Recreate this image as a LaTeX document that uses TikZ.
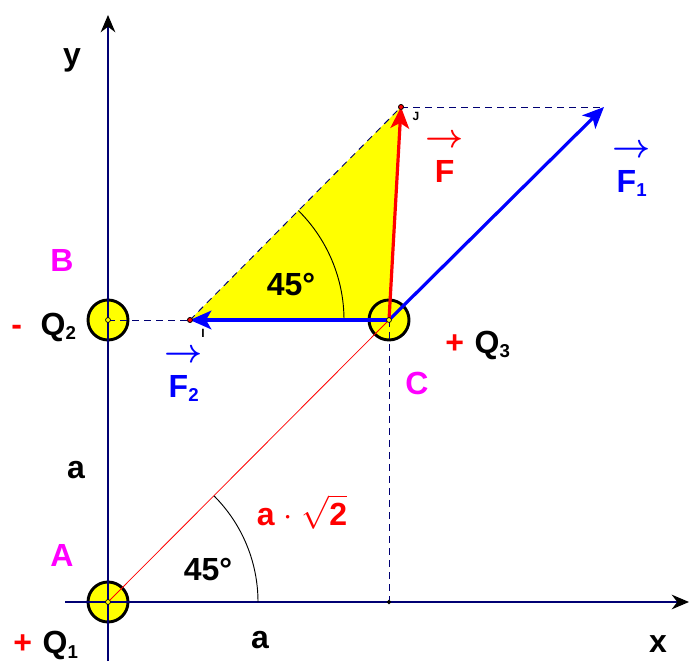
\documentclass[tikz,border=0pt]{standalone}
\usepackage{amsmath,amssymb,bm}
\usepackage{fontspec}
\setmainfont{Liberation Sans}
\usetikzlibrary{arrows.meta}

\definecolor{pink}{RGB}{255,0,255}
\definecolor{lemon}{RGB}{255,255,0}
\newcommand{\vecF}[1][]{\shortstack{$\boldsymbol{\rightarrow}$\\[6pt]F\textsubscript{\fontsize{14}{14}\selectfont #1}}}

\begin{document}
\begin{tikzpicture}[
  x=0.75pt,y=0.75pt,
  font=\bfseries\fontsize{24}{28}\selectfont,
  charge/.style={draw,circle,line width=2.2pt,fill=lemon,minimum size=30pt,inner sep=0pt},
  ctr/.style={draw,circle,fill=lemon,line width=0.5pt,inner sep=1.3pt},
  tipdot/.style={draw,circle,fill=red,line width=0.5pt,inner sep=1.3pt},
  axis/.style={blue!45!black,line width=0.8pt,-{Stealth[length=13pt,width=11pt,black]}},
  help/.style={blue!45!black,line width=0.7pt,dash pattern=on 5pt off 4pt},
  barc/.style={blue,line width=2.4pt,-{Stealth[length=16pt,width=14pt,inset=4pt]}},
  rarc/.style={red,line width=2.4pt,-{Stealth[length=16pt,width=14pt,inset=4pt]}},
  ang/.style={black,line width=0.7pt},
  pnk/.style={pink},
  vlab/.style={inner sep=0pt},
  small/.style={font=\bfseries\fontsize{9}{10}\selectfont,inner sep=1pt},
]
  \useasboundingbox (0,0) rectangle (689,661);

  % force triangle
  \fill[lemon] (190,341) -- (389,341) -- (401,554) -- cycle;

  % charges
  \node[charge] (A) at (108,59) {};
  \node[charge] (B) at (108,341) {};
  \node[charge] (C) at (389,341) {};

  % axes
  \coordinate (y0) at (108,0);
  \coordinate (y1) at (108,646);
  \coordinate (x0) at (65,59);
  \coordinate (x1) at (689,59);
  \draw[axis] (y0) -- (y1);
  \draw[axis] (x0) -- (x1);

  % points
  \node[tipdot] (I) at (190,341) {};
  \node[tipdot] (J) at (401,554) {};
  \coordinate (T) at (604,554);
  \node[draw,circle,fill=black,inner sep=1pt] (D) at (389,59) {};

  % helper lines
  \draw[help] (B.center) -- (I.center);
  \draw[help] (J.center) -- (T);
  \draw[help] (C.center) -- (D);
  \draw[help] (I.center) -- (J.center);
  \draw[red,line width=0.6pt] (A.center) -- (C.center);

  % angles
  \draw[ang] (A.center) ++(150,0) arc[start angle=0,end angle=45,radius=150];
  \draw[ang] (I.center) ++(154,0) arc[start angle=0,end angle=45.3,radius=154];

  % forces
  \draw[barc] (C.center) -- (I.center);
  \draw[barc] (C.center) -- (T);
  \draw[rarc] (C.center) -- (J.center);

  \node[ctr] at (A.center) {};
  \node[ctr] at (B.center) {};
  \node[ctr] at (C.center) {};
  \node[tipdot] at (I.center) {};
  \node[tipdot] at (J.center) {};

  % labels
  \node at (72,601) {y};
  \node at (658,17) {x};
  \node[pnk] at (62,401) {B};
  \node[pnk] at (62,106) {A};
  \node[pnk] at (417,278) {C};
  \node at (44,334) {\textcolor{red}{-}\hspace{14pt}Q\textsubscript{\fontsize{14}{14}\selectfont 2}};
  \node at (46,16) {\textcolor{red}{+}\hspace{8pt}Q\textsubscript{\fontsize{14}{14}\selectfont 1}};
  \node at (478,316) {\textcolor{red}{+}\hspace{8pt}Q\textsubscript{\fontsize{14}{14}\selectfont 3}};
  \node at (76,191) {a};
  \node at (260,21) {a};
  \node at (291,376) {45°};
  \node at (208,91) {45°};
  \node[red] at (302,149) {a $\cdot$ $\sqrt{\text{\bfseries 2}}$};
  \node[blue,vlab] at (184,285) {\vecF[2]};
  \node[blue,vlab] at (632,490) {\vecF[1]};
  \node[red,vlab] at (445,500) {\vecF};
  \node[small] at (203,328) {I};
  \node[small] at (416,545) {J};
\end{tikzpicture}
\end{document}
